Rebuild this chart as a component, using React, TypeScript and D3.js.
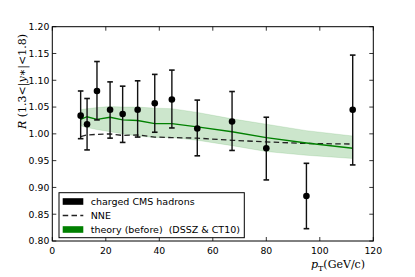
import React from 'react';
import * as d3 from 'd3';

// CMS charged hadrons, R(1.3<|y*|<1.8)
const ptData = [10.6, 13.0, 16.7, 21.6, 26.3, 31.9, 38.3, 44.7, 54.2, 67.2, 80.0, 95.0, 112.3];
const rData = [1.034, 1.018, 1.080, 1.045, 1.037, 1.045, 1.057, 1.064, 1.010, 1.023, 0.973, 0.884, 1.045];
const rHigh = [1.080, 1.066, 1.135, 1.097, 1.089, 1.099, 1.111, 1.119, 1.063, 1.079, 1.031, 0.945, 1.147];
const rLow = [0.991, 0.970, 1.026, 0.992, 0.984, 0.994, 1.003, 1.011, 0.959, 0.969, 0.914, 0.823, 0.942];

// theory (before) DSSZ & CT10
const ptTheory = [10.6, 13.0, 16.7, 21.6, 26.3, 31.9, 38.3, 44.7, 54.2, 67.2, 80.0, 95.0, 112.3];
const theoryMid = [1.027, 1.032, 1.027, 1.031, 1.026, 1.025, 1.019, 1.019, 1.013, 1.004, 0.993, 0.983, 0.973];
const theoryUp = [1.045, 1.047, 1.049, 1.051, 1.050, 1.050, 1.048, 1.047, 1.040, 1.028, 1.018, 1.006, 0.996];
const theoryDown = [1.015, 1.012, 1.008, 1.004, 1.000, 0.996, 0.993, 0.993, 0.988, 0.978, 0.967, 0.960, 0.954];

// NNE
const nne = [0.995, 0.998, 0.999, 1.000, 0.997, 0.998, 0.994, 0.993, 0.992, 0.988, 0.985, 0.982, 0.981];

const xTicks = [0, 20, 40, 60, 80, 100, 120];
const yTicks = [0.8, 0.85, 0.9, 0.95, 1.0, 1.05, 1.1, 1.15, 1.2];

const legendLabels = ['charged CMS hadrons', 'NNE', 'theory (before)  (DSSZ & CT10)'];

const W = 415;
const H = 277;
const m = { l: 52.3, r: 41.7, t: 26.7, b: 36 };
const green = '#008000';
const font = '"DejaVu Sans", sans-serif';
const serif = '"DejaVu Serif", serif';
const dash = '5.5,3.3';

export default function App() {
  const x = d3.scaleLinear().domain([0, 120]).range([m.l, W - m.r]);
  const y = d3.scaleLinear().domain([0.8, 1.2]).range([H - m.b, m.t]);

  const band = d3
    .area<number>()
    .x((_, i) => x(ptTheory[i]))
    .y0((_, i) => y(theoryDown[i]))
    .y1((d) => y(d))(theoryUp);
  const mid = d3
    .line<number>()
    .x((_, i) => x(ptTheory[i]))
    .y((d) => y(d))(theoryMid);
  const nneLine = d3
    .line<number>()
    .x((_, i) => x(ptTheory[i]))
    .y((d) => y(d))(nne);

  const x0 = x(0);
  const x1 = x(120);
  const y0 = y(0.8);
  const y1 = y(1.2);
  const tick = 4;

  const lgX = 59;
  const lgY = 192.7;
  const lgW = 185.3;
  const lgH = 45;
  const rowY = [201.5, 215.5, 229.5];

  return (
    <svg width={W} height={H} style={{ position: 'absolute', left: 0, top: 0, background: '#fff' }}>
      <path d={band || ''} fill={green} fillOpacity={0.2} stroke={green} strokeOpacity={0.15} strokeWidth={0.8} />
      <path d={nneLine || ''} fill="none" stroke="#222" strokeWidth={1.3} strokeDasharray={dash} />
      <path d={mid || ''} fill="none" stroke={green} strokeWidth={1.4} />

      {ptData.map((p, i) => (
        <g key={i} stroke="#111" strokeWidth={1.4}>
          <line x1={x(p)} x2={x(p)} y1={y(rLow[i])} y2={y(rHigh[i])} />
          <line x1={x(p) - 2.8} x2={x(p) + 2.8} y1={y(rLow[i])} y2={y(rLow[i])} strokeWidth={1.6} />
          <line x1={x(p) - 2.8} x2={x(p) + 2.8} y1={y(rHigh[i])} y2={y(rHigh[i])} strokeWidth={1.6} />
          <circle cx={x(p)} cy={y(rData[i])} r={3.3} fill="#000" stroke="none" />
        </g>
      ))}

      {/* frame and ticks */}
      <rect x={x0} y={y1} width={x1 - x0} height={y0 - y1} fill="none" stroke="#000" strokeWidth={1} />
      {xTicks.map((t) => (
        <g key={'x' + t} stroke="#000" strokeWidth={0.8}>
          <line x1={x(t)} x2={x(t)} y1={y0} y2={y0 - tick} />
          <line x1={x(t)} x2={x(t)} y1={y1} y2={y1 + tick} />
        </g>
      ))}
      {yTicks.map((t) => (
        <g key={'y' + t} stroke="#000" strokeWidth={0.8}>
          <line x1={x0} x2={x0 + tick} y1={y(t)} y2={y(t)} />
          <line x1={x1} x2={x1 - tick} y1={y(t)} y2={y(t)} />
        </g>
      ))}
      {xTicks.map((t) => (
        <text key={'xl' + t} x={x(t)} y={y0 + 13} textAnchor="middle" fontFamily={font} fontSize={9.3}>
          {t}
        </text>
      ))}
      {yTicks.map((t) => (
        <text key={'yl' + t} x={x0 - 3} y={y(t) + 3.3} textAnchor="end" fontFamily={font} fontSize={9.3}>
          {d3.format('.2f')(t)}
        </text>
      ))}

      {/* axis labels */}
      <text x={338} y={268} textAnchor="middle" fontFamily={serif} fontSize={11}>
        <tspan fontStyle="italic">p</tspan>
        <tspan fontSize={8} dy={2.5}>T</tspan>
        <tspan dy={-2.5}>(GeV/c)</tspan>
      </text>
      <text
        transform={`translate(26,129) rotate(-90)`}
        textAnchor="start"
        fontFamily={serif}
        fontSize={11}
      >
        <tspan fontStyle="italic">R</tspan>
        <tspan> (1.3</tspan>
        <tspan>{'<|'}</tspan>
        <tspan fontStyle="italic">y</tspan>
        <tspan>{'∗|<1.8)'}</tspan>
      </text>

      {/* legend */}
      <rect x={lgX} y={lgY} width={lgW} height={lgH} fill="#fff" stroke="#000" strokeWidth={1} />
      <rect x={62.7} y={rowY[0] - 3.3} width={20.6} height={6.6} fill="#000" />
      <line x1={62.7} x2={83.3} y1={rowY[1]} y2={rowY[1]} stroke="#222" strokeWidth={1.3} strokeDasharray={dash} />
      <rect x={62.7} y={rowY[2] - 3.3} width={20.6} height={6.6} fill={green} />
      {legendLabels.map((l, i) => (
        <text key={l} x={90.7} y={rowY[i] + 3.4} fontFamily={font} fontSize={9.5} style={{ whiteSpace: 'pre' }}>
          {l}
        </text>
      ))}
    </svg>
  );
}
